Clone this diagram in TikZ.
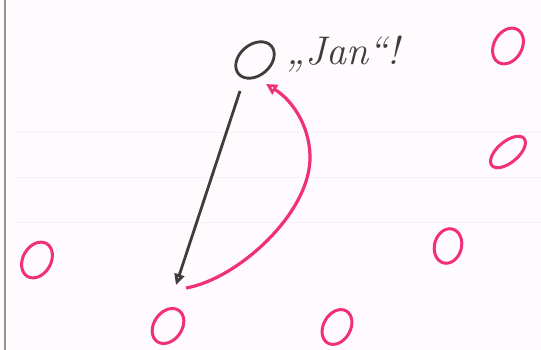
\documentclass[tikz,border=0pt]{standalone}
\usetikzlibrary{arrows.meta,shapes.geometric}
\definecolor{paper}{RGB}{255,250,253}
\definecolor{rule}{RGB}{246,242,246}
\definecolor{margin}{RGB}{150,145,145}
\definecolor{pen}{RGB}{62,60,60}
\definecolor{hl}{RGB}{240,48,122}
\tikzset{
  dot/.style={draw=hl, line width=3pt, ellipse, inner sep=0pt, minimum width=28pt, minimum height=38pt},
  blackdot/.style={draw=pen, line width=2.8pt, ellipse, inner sep=0pt, minimum width=31pt, minimum height=43pt},
  penarrow/.style={draw=pen, line width=2.8pt, -{Triangle[open,length=11pt,width=10pt]}},
  hlarrow/.style={draw=hl, line width=3.2pt, -{Triangle[open,length=11pt,width=11pt]}},
  label/.style={text=pen, font=\fontsize{40}{40}\selectfont\itshape}
}
\begin{document}
\begin{tikzpicture}[x=1pt,y=-1pt]
\fill[paper] (0,0) rectangle (541,350);
\useasboundingbox (0,0) rectangle (541,350);
\foreach \yy in {132,177,222} \draw[rule, line width=0.8pt] (12,\yy) -- (541,\yy);
\draw[margin, line width=2.4pt] (5,0) -- (5,350);
% nodes
\node[blackdot, rotate=-50] (jan) at (255,60) {};
\node[label, anchor=west] (txt) at (283,54) {„Jan“!};
\node[dot, rotate=-30] (p1) at (508,46) {};
\node[dot, rotate=-50, minimum width=21pt, minimum height=42pt] (p2) at (508,152) {};
\node[dot, rotate=-15, minimum width=27pt, minimum height=35pt] (p3) at (448,246) {};
\node[dot, rotate=-30] (p4) at (37,260) {};
\node[dot, rotate=-35] (p5) at (168,326) {};
\node[dot, rotate=-30, minimum width=27pt, minimum height=37pt] (p6) at (337,327) {};
\coordinate (s1) at (240,91);
\coordinate (e1) at (176,285);
\coordinate (s2) at (186,288);
\coordinate (e2) at (266,84);
% connectors
\draw[penarrow] (s1) -- (e1);
\draw[hlarrow] (s2) .. controls (238,279) and (312,212) .. (310,155) .. controls (309,125) and (292,100) .. (e2);
\end{tikzpicture}
\end{document}
